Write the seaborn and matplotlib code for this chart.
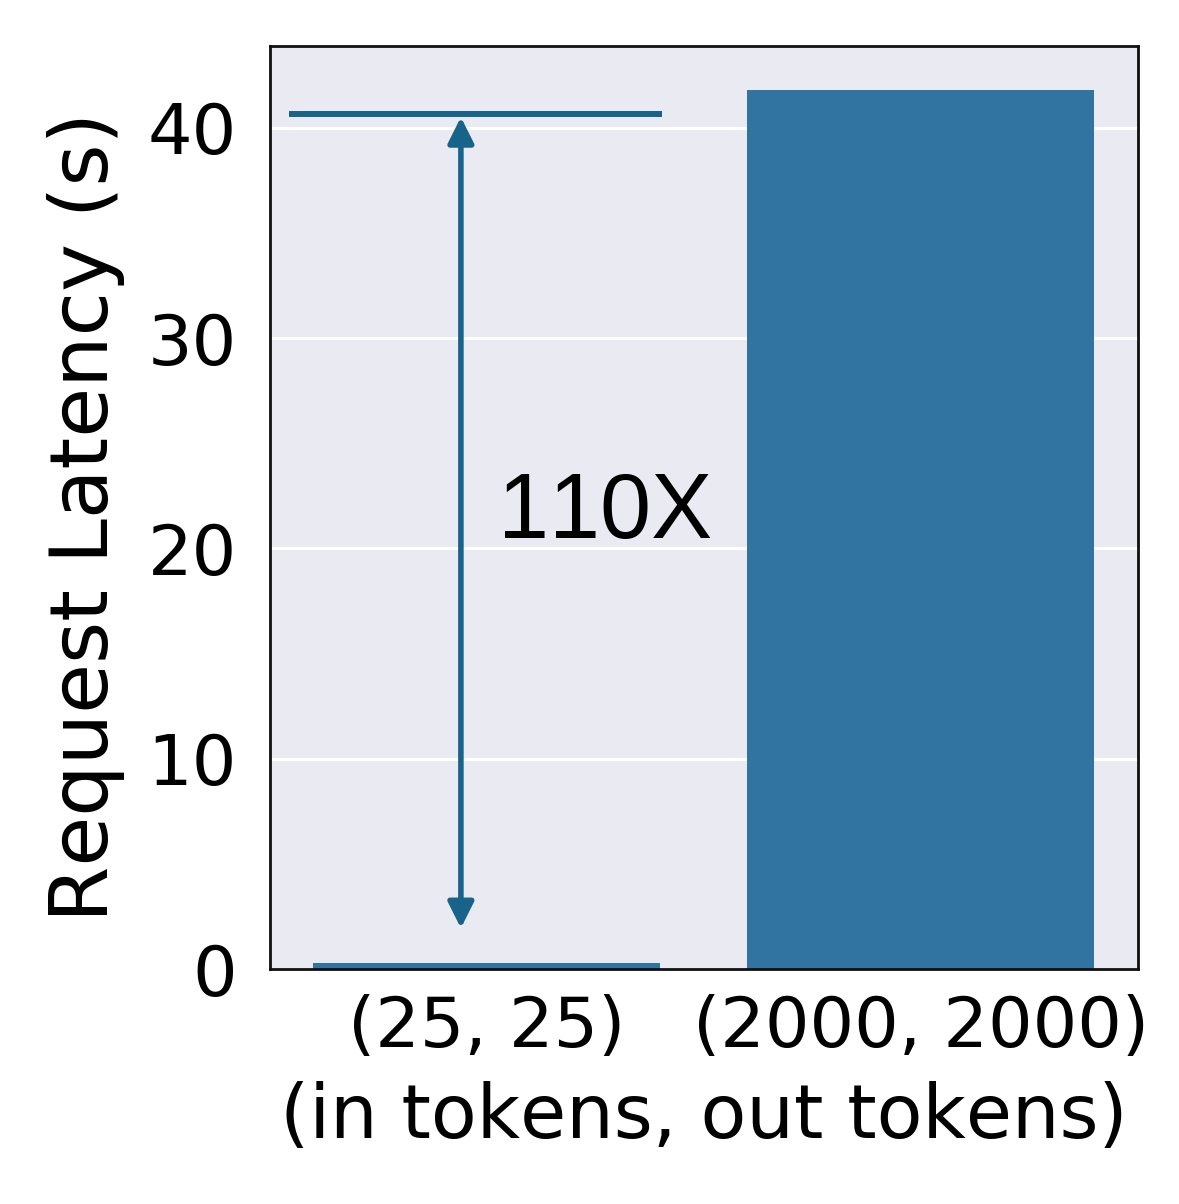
import matplotlib
matplotlib.use("Agg")
import matplotlib.pyplot as plt
import seaborn as sns
import pandas as pd

categories = ["(25, 25)", "(2000, 2000)"]
latency = [0.3, 41.8]
ref_level = 40.66
arrow_top = 40.5
arrow_bottom = 1.95
ratio_label = "110X"

sns.set_theme(style="darkgrid")
plt.rcParams["font.family"] = ["DejaVu Sans"]
plt.rcParams["text.kerning_factor"] = 20

fig = plt.figure(figsize=(11.79, 12.04), dpi=100)
ax = fig.add_axes([0.229, 0.195, 0.736, 0.767])

df = pd.DataFrame({"cfg": categories, "lat": latency})
sns.barplot(data=df, x="cfg", y="lat", color="#1f77b4", ax=ax, width=0.8,
            linewidth=0)

line_color = "#176389"
ax.hlines(ref_level, -0.457, 0.404, color=line_color, lw=4.3)
ax.annotate("", xy=(-0.06, arrow_bottom), xytext=(-0.06, arrow_top),
            arrowprops=dict(arrowstyle="<|-|>,head_length=1.3,head_width=0.65",
                            color=line_color, lw=4.0, shrinkA=0, shrinkB=0))
ax.text(0.025, 20.5, ratio_label, fontsize=66, family="Liberation Sans",
        ha="left", va="baseline", color="black")

ax.set_xlim(-0.5, 1.5)
ax.set_ylim(0, 43.89)
ax.set_yticks([0, 10, 20, 30, 40])
ax.grid(axis="x", visible=False)
ax.grid(axis="y", color="white", lw=2.2)

for s in ax.spines.values():
    s.set_visible(True)
    s.set_color("#111111")
    s.set_linewidth(2.0)

ax.tick_params(axis="both", which="major", direction="out", length=10, width=1.8,
               color="#111111", labelsize=50.5, labelcolor="black")
ax.tick_params(axis="y", pad=14)
ax.tick_params(axis="x", pad=8)
ax.set_ylabel("Request Latency (s)", fontsize=58.3, color="black")
ax.yaxis.set_label_coords(-0.167, 0.49)
ax.set_xlabel("(in tokens, out tokens)", fontsize=54, labelpad=14, color="black")

fig.savefig("out.png", dpi=100)
